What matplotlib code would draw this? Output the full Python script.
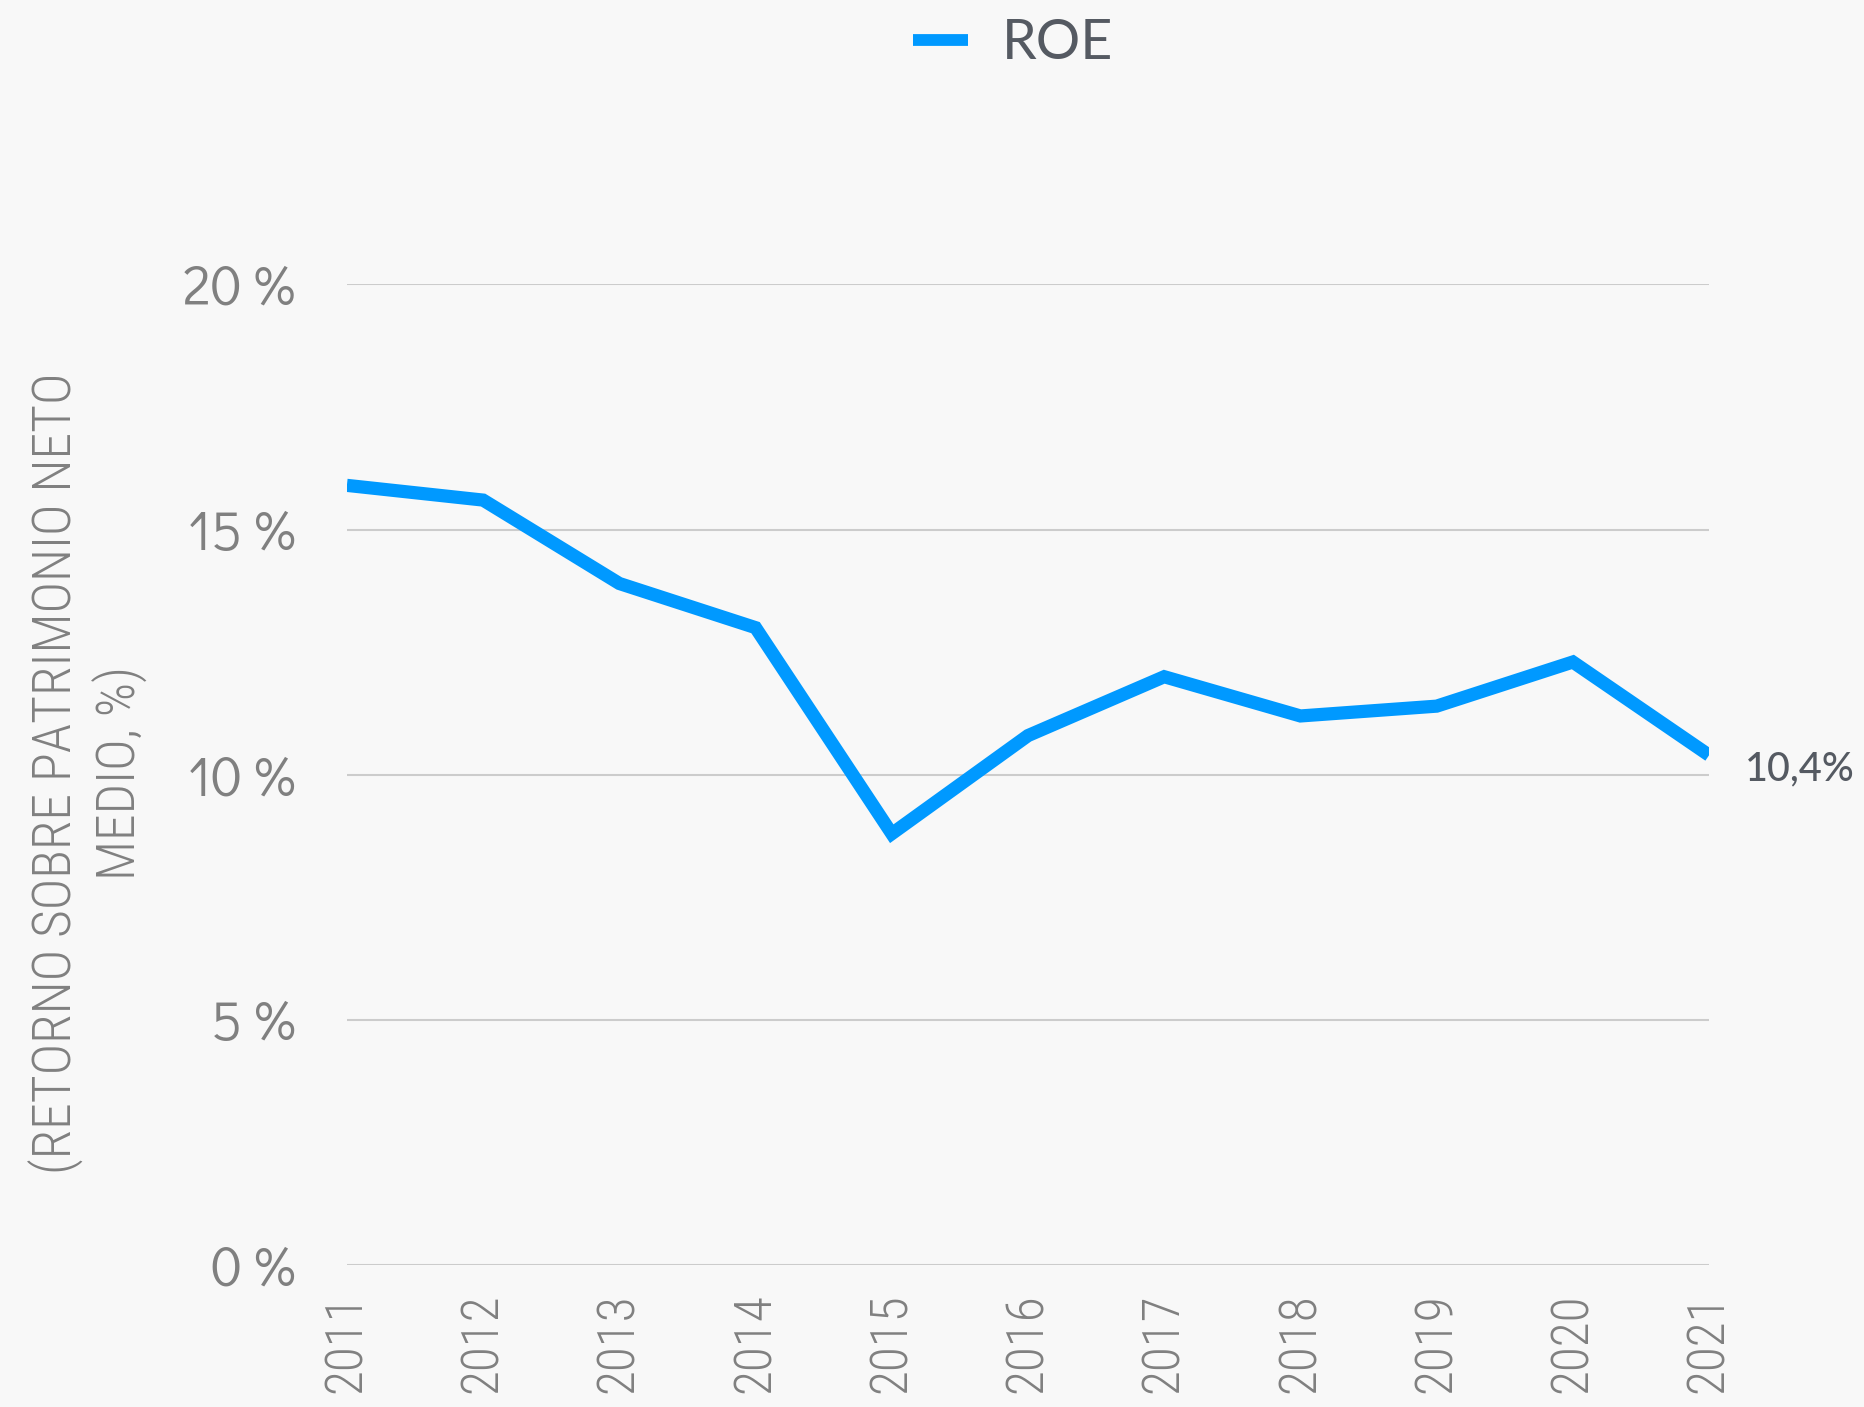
import matplotlib
matplotlib.use("Agg")
import matplotlib.pyplot as plt
from matplotlib import font_manager as fm

years = ["2011", "2012", "2013", "2014", "2015", "2016", "2017", "2018", "2019", "2020", "2021"]
roe = [15.9, 15.6, 13.9, 13.0, 8.8, 10.8, 12.0, 11.2, 11.4, 12.3, 10.4]
yticks = [0, 5, 10, 15, 20]
ytick_labels = ["0 %", "5 %", "10 %", "15 %", "20 %"]
last_label = "10,4%"
series_name = "ROE"
ylabel = "(RETORNO SOBRE PATRIMONIO NETO\nMEDIO, %)"

names = {f.name for f in fm.fontManager.ttflist}
def pick(cands):
    for c in cands:
        if c in names:
            return c
    return "DejaVu Sans"

narrow = pick(["Roboto Condensed", "Archivo Narrow", "Asap Condensed", "Barlow Condensed"])
geo = pick(["Didact Gothic", "Questrial", "Mulish", "Lato"])
avenir = "Lato"

bg = "#f8f8f8"
blue = "#0099ff"
gray = "#808080"
dark = "#555a62"

fig = plt.figure(figsize=(18.65, 14.07), dpi=100, facecolor=bg)
ax = fig.add_axes([0.186, 0.1006, 0.9164 - 0.186, 0.798 - 0.1006], facecolor=bg)

x = list(range(len(years)))
ax.plot(x, roe, color=blue, lw=9.5, solid_joinstyle="miter", solid_capstyle="butt", label=series_name, zorder=3)

ax.set_xlim(0, len(years) - 1)
ax.set_ylim(0, 20)
ax.set_yticks(yticks)
ax.set_yticklabels(ytick_labels, family=geo, fontsize=40, color=gray)
ax.set_xticks(x)
ax.set_xticklabels(years, rotation=90, family=narrow, fontsize=37, color=gray, va="top", ha="center",
                   fontweight="light")
ax.tick_params(axis="y", length=0, pad=37)
ax.tick_params(axis="x", length=0, pad=20)
ax.grid(axis="y", color="#cccccc", lw=1.5)
ax.grid(axis="x", visible=False)
for s in ax.spines.values():
    s.set_visible(False)
ax.set_axisbelow(True)

ax.annotate(last_label, xy=(x[-1], roe[-1]), xytext=(26, -10), textcoords="offset points",
            ha="left", va="center", fontsize=28.5, color=dark, family=avenir, fontweight="medium")

fig.text(88 / 1865, 1 - 773 / 1407, ylabel, rotation=90, ha="center", va="center",
         multialignment="center", family=narrow, fontsize=38.5, color=gray, linespacing=1.2,
         fontweight="light")

leg = fig.legend(loc="center", bbox_to_anchor=(0.543, 0.969), frameon=False,
                 handlelength=1.0, handletextpad=0.6, prop={"family": avenir, "size": 40})
for t in leg.get_texts():
    t.set_color(dark)
for h in leg.get_lines():
    h.set_linewidth(8.5)

fig.savefig("out.png", dpi=100, facecolor=bg)
